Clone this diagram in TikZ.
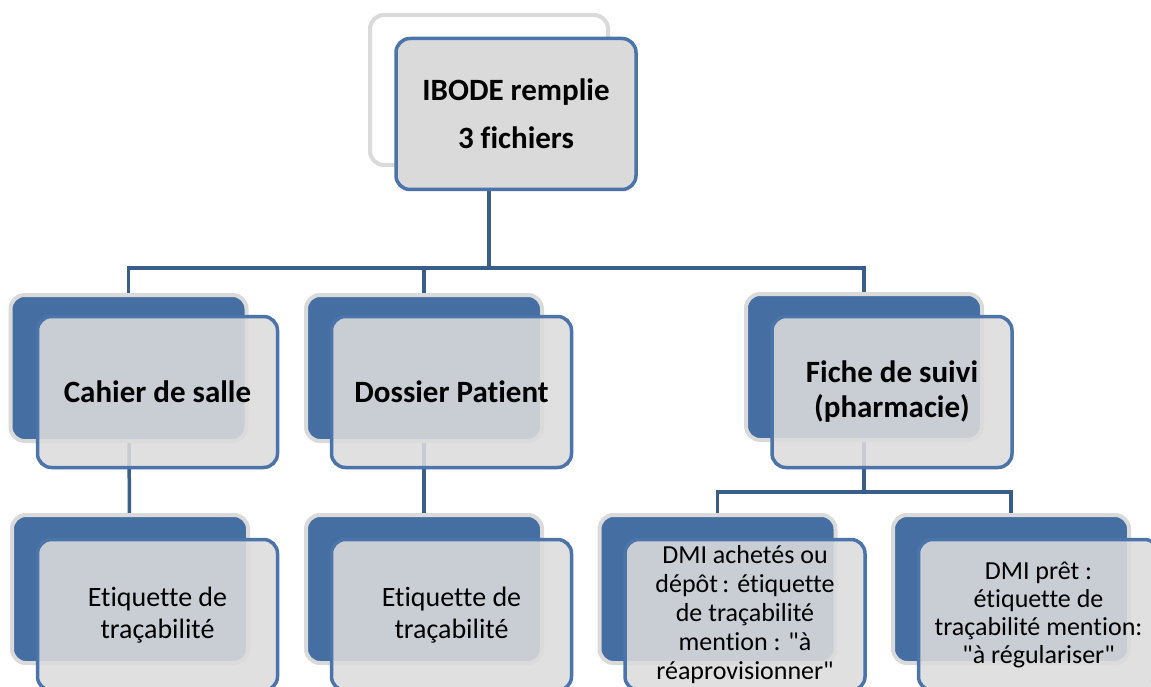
\documentclass[tikz,border=0pt]{standalone}
\usepackage{fontspec}
\setmainfont{Carlito}[Ligatures={TeXOff,NoCommon}]
\definecolor{backblue}{RGB}{69,110,162}
\definecolor{lgray}{RGB}{218,218,218}
\definecolor{frontblue}{RGB}{74,116,170}
\definecolor{connblue}{RGB}{58,94,138}
\definecolor{frontfill}{RGB}{220,220,220}
\tikzset{
  backbox/.style={draw=lgray, line width=4pt, fill=backblue, rounded corners=14pt,
    minimum width=236pt, minimum height=146pt, inner sep=0pt},
  topback/.style={draw=lgray, line width=4pt, fill=white, rounded corners=14pt,
    minimum width=238pt, minimum height=150pt, inner sep=0pt},
  frontbox/.style={draw=frontblue, line width=3.5pt, fill=frontfill, fill opacity=0.88,
    text opacity=1, rounded corners=14pt, minimum width=240pt, minimum height=151pt,
    inner sep=0pt, align=center},
  conn/.style={draw=connblue, line width=3.5pt},
  boldtxt/.style={font=\bfseries\fontsize{31}{35}\selectfont},
  etq/.style={font=\fontsize{28}{32}\selectfont},
  dmi/.style={font=\fontsize{26}{29}\selectfont},
}
\begin{document}
\begin{tikzpicture}[x=1pt,y=-1pt]
\clip (0,0) rectangle (1151,687);
\fill[white] (0,0) rectangle (1151,687);
\coordinate (bus1) at (0,268);
\coordinate (bus2) at (0,492);
\path (489,90) coordinate (pTop)
      (128.5,368) coordinate (pCah)
      (424,368) coordinate (pDos)
      (864,367) coordinate (pFic)
      (130,589) coordinate (pE1)
      (424,589) coordinate (pE2)
      (717.5,589) coordinate (pD1)
      (1011,589) coordinate (pD2);
% connectors drawn first (underneath)
\draw[conn] (pTop) -- (pTop |- bus1);
\draw[conn] (pCah) |- (pTop |- bus1) -| (pFic);
\draw[conn] (pDos) -- (pDos |- bus1);
\draw[conn] (pCah) -- (pE1);
\draw[conn] (pDos) -- (pE2);
\draw[conn] (pD1) |- (pFic |- bus2) -| (pD2);
\draw[conn] (pFic) -- (pFic |- bus2);
% back boxes
\node[topback] (topb) at (pTop) {};
\node[backbox] (cahb) at (pCah) {};
\node[backbox] (dosb) at (pDos) {};
\node[backbox] (ficb) at (pFic) {};
\node[backbox, minimum height=148pt] (e1b) at (pE1) {};
\node[backbox, minimum height=148pt] (e2b) at (pE2) {};
\node[backbox, minimum height=148pt] (d1b) at (pD1) {};
\node[backbox, minimum height=148pt] (d2b) at (pD2) {};
% front boxes
\node[frontbox, fill=lgray, fill opacity=1, font=\bfseries\fontsize{31}{48}\selectfont] (top) at (516,114) {IBODE remplie\\3 fichiers};
\node[frontbox, boldtxt] (cah) at (157.5,392) {Cahier de salle};
\node[frontbox, boldtxt] (dos) at (451.5,392) {Dossier Patient};
\node[frontbox, boldtxt] (fic) at (892,392) {Fiche de suivi\\(pharmacie)};
\node[frontbox, etq] (e1) at (157.5,615) {Etiquette de\\traçabilité};
\node[frontbox, etq] (e2) at (451.5,615) {Etiquette de\\traçabilité};
\node[frontbox, dmi] (d1) at (745,615) {DMI achetés ou\\dépôt\,: étiquette\\de traçabilité\\mention : "à\\réaprovisionner"};
\node[frontbox, font=\fontsize{26}{28}\selectfont] (d2) at (1038.5,615) {DMI prêt :\\étiquette de\\traçabilité mention:\\"à régulariser"};
\end{tikzpicture}
\end{document}
